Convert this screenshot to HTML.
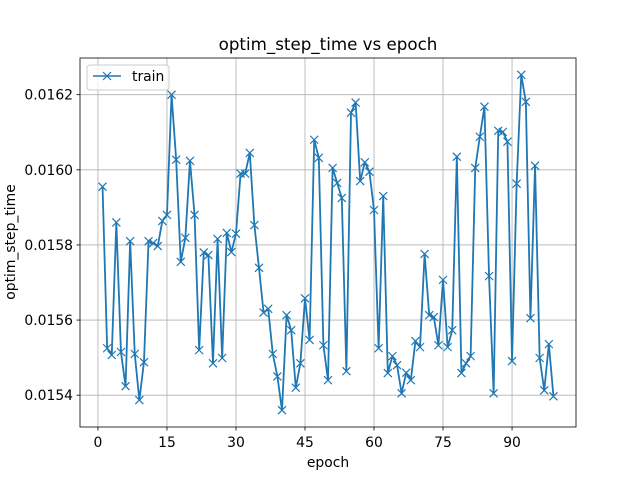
<!DOCTYPE html>
<html><head><meta charset="utf-8"><style>
html,body{margin:0;padding:0;background:#fff;}
svg{display:block;font-family:"DejaVu Sans","Liberation Sans",sans-serif;}
</style></head><body>
<svg id="chart" width="640" height="480" viewBox="0 0 640 480">
<rect width="640" height="480" fill="#fff"/>
<g id="grid"></g>
<g id="series"></g>
<rect x="80" y="58" width="496" height="369" fill="none" stroke="#000" stroke-width="0.8"/>
<g id="xticks"></g>
<g id="yticks"></g>
<text x="328" y="50" font-size="16.7" text-anchor="middle">optim_step_time vs epoch</text>
<text x="328" y="467" font-size="13.9" text-anchor="middle">epoch</text>
<text x="0" y="0" font-size="13.9" text-anchor="middle" transform="translate(15,242) rotate(-90)">optim_step_time</text>
<g>
<rect x="87" y="65" width="82" height="25" rx="3" fill="#fff" fill-opacity="0.8" stroke="#ccc" stroke-width="1"/>
<line x1="93" y1="76" x2="121" y2="76" stroke="#1f77b4" stroke-width="1.5"/>
<path d="M103,72 L111,80 M103,80 L111,72" stroke="#1f77b4" stroke-width="1.2"/>
<text x="132" y="81" font-size="13.9">train</text>
</g>
</svg>
<script>
const epochs = [];
for (let i = 1; i <= 99; i++) epochs.push(i);
const trainValues = [159.55,155.25,155.07,158.6,155.15,154.24,158.1,155.1,153.87,154.88,
158.1,158.05,157.97,158.64,158.8,162.0,160.27,157.55,158.19,160.24,
158.8,155.2,157.8,157.73,154.85,158.16,154.99,158.32,157.81,158.3,
159.9,159.9,160.45,158.53,157.39,156.2,156.3,155.1,154.5,153.6,
156.13,155.73,154.2,154.85,156.58,155.47,160.8,160.32,155.33,154.4,
160.05,159.65,159.25,154.64,161.52,161.79,159.7,160.2,159.95,158.93,
155.25,159.3,154.59,155.04,154.8,154.05,154.6,154.4,155.44,155.28,
157.76,156.13,156.08,155.33,157.07,155.28,155.73,160.35,154.59,154.85,
155.04,160.05,160.88,161.68,157.17,154.05,161.04,161.01,160.75,154.91,
159.63,162.53,161.81,156.05,160.11,154.99,154.13,155.36,153.97];
const xTickValues = [0,15,30,45,60,75,90];
const yTickValues = [154,156,158,160,162];
const yTickLabels = ["0.0154","0.0156","0.0158","0.0160","0.0162"];

const L=80,R=576,T=58,B=427;
const xmin0=Math.min(...epochs), xmax0=Math.max(...epochs);
const ymin0=Math.min(...trainValues), ymax0=Math.max(...trainValues);
const xm=(xmax0-xmin0)*0.05, ym=(ymax0-ymin0)*0.05;
const x0=xmin0-xm, x1=xmax0+xm, y0=ymin0-ym, y1=ymax0+ym;
const sx=v=>L+(v-x0)/(x1-x0)*(R-L);
const sy=v=>B-(v-y0)/(y1-y0)*(B-T);
const NS="http://www.w3.org/2000/svg";
function mk(tag,attrs,parent){const e=document.createElementNS(NS,tag);for(const k in attrs)e.setAttribute(k,attrs[k]);parent.appendChild(e);return e;}
const grid=document.getElementById('grid'), xt=document.getElementById('xticks'), yt=document.getElementById('yticks'), ser=document.getElementById('series');
xTickValues.forEach(v=>{
  const x=sx(v);
  const g=mk('line',{x1:x,x2:x,y1:T,y2:B,stroke:'#b0b0b0','stroke-width':0.8},grid);
  
  
  const t=mk('line',{x1:x,x2:x,y1:B,y2:B+3.5,stroke:'#000','stroke-width':0.8},xt);
  
  
  const l=mk('text',{x:x,y:B+20,'font-size':13.9,'text-anchor':'middle'},xt);
  l.textContent=String(v);
  
  
});
yTickValues.forEach((v,i)=>{
  const y=sy(v);
  const g=mk('line',{x1:L,x2:R,y1:y,y2:y,stroke:'#b0b0b0','stroke-width':0.8},grid);
  
  
  const t=mk('line',{x1:L-3.5,x2:L,y1:y,y2:y,stroke:'#000','stroke-width':0.8},yt);
  
  
  const l=mk('text',{x:L-7,y:y+5,'font-size':13.9,'text-anchor':'end'},yt);
  l.textContent=yTickLabels[i];
  
  
});
const pts=epochs.map((e,i)=>sx(e).toFixed(2)+','+sy(trainValues[i]).toFixed(2)).join(' ');
const pl=mk('polyline',{points:pts,fill:'none',stroke:'#1f77b4','stroke-width':1.8,'stroke-linejoin':'round'},ser);


epochs.forEach((e,i)=>{
  const x=sx(e), y=sy(trainValues[i]);
  const m=mk('path',{d:`M${x-4},${y-4} L${x+4},${y+4} M${x-4},${y+4} L${x+4},${y-4}`,stroke:'#1f77b4','stroke-width':1.2},ser);
  
  
});
</script>
</body></html>
